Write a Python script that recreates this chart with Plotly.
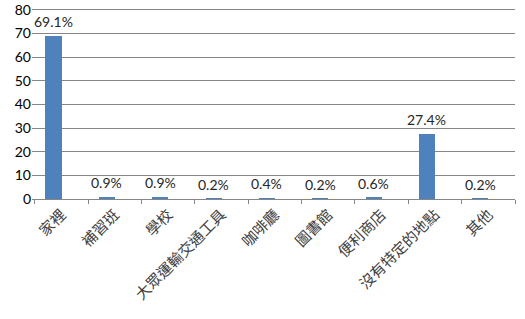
import plotly.graph_objects as go

categories = ["家裡", "補習班", "學校", "大眾運輸交通工具", "咖啡廳", "圖書館", "便利商店", "沒有特定的地點", "其他"]
values = [69.1, 0.9, 0.9, 0.2, 0.4, 0.2, 0.6, 27.4, 0.2]
labels = ["69.1%", "0.9%", "0.9%", "0.2%", "0.4%", "0.2%", "0.6%", "27.4%", "0.2%"]
y_ticks = [0, 10, 20, 30, 40, 50, 60, 70, 80]

num_font = "Lato, 'Open Sans', sans-serif"
cjk_font = "'Noto Sans CJK TC', 'Noto Sans CJK SC', sans-serif"

fig = go.Figure()
fig.add_trace(go.Bar(
    x=categories, y=values,
    marker=dict(color="#4F81BD", line=dict(width=0)),
    width=0.3, offset=-0.3,
    hoverinfo="skip",
))

annotations = []
for c, v, t in zip(categories, values, labels):
    annotations.append(dict(
        x=c, y=v, text=t, showarrow=False,
        xref="x", yref="y", yanchor="bottom", xanchor="center",
        xshift=-8, yshift=4,
        font=dict(family=num_font, size=14, color="#262626"),
    ))

fig.update_layout(
    width=525, height=319,
    margin=dict(l=32, r=10, t=7, b=120, autoexpand=False),
    paper_bgcolor="white", plot_bgcolor="white",
    showlegend=False,
    bargap=0,
    annotations=annotations,
    xaxis=dict(
        type="category",
        tickson="boundaries",
        ticks="outside", ticklen=4, tickcolor="#868686",
        showline=True, linecolor="#868686", linewidth=1,
        showgrid=False,
        tickangle=-45,
        automargin=False,
        tickfont=dict(family=cjk_font, size=15, color="#404040"),
    ),
    yaxis=dict(
        range=[0, max(y_ticks) + 1.2],
        tickvals=y_ticks,
        showgrid=True, gridcolor="#868686", gridwidth=1,
        zeroline=False,
        showline=False,
        ticks="",
        automargin=False,
        ticklabeloverflow="allow",
        tickfont=dict(family=num_font, size=14, color="#000000"),
    ),
)

fig.write_html("out.html")
